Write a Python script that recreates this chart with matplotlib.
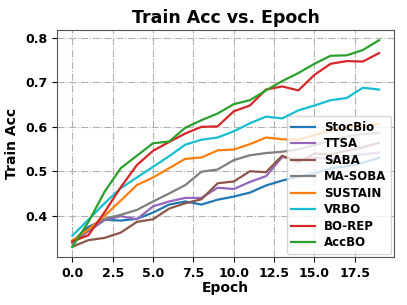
import matplotlib
matplotlib.use("Agg")
import matplotlib.pyplot as plt
from matplotlib.ticker import MultipleLocator, FormatStrFormatter
import numpy as np

epochs = np.arange(20)

StocBio = [0.342, 0.375, 0.391, 0.389, 0.393, 0.407, 0.425, 0.432, 0.425, 0.436,
           0.443, 0.452, 0.468, 0.479, 0.488, 0.495, 0.507, 0.511, 0.519, 0.530]
TTSA = [0.338, 0.365, 0.390, 0.399, 0.392, 0.421, 0.432, 0.440, 0.440, 0.463,
        0.460, 0.476, 0.489, 0.532, 0.527, 0.530, 0.528, 0.533, 0.538, 0.542]
SABA = [0.330, 0.345, 0.350, 0.362, 0.386, 0.392, 0.416, 0.428, 0.437, 0.473,
        0.477, 0.500, 0.498, 0.535, 0.520, 0.540, 0.538, 0.546, 0.554, 0.564]
MA_SOBA = [0.340, 0.368, 0.393, 0.402, 0.413, 0.432, 0.450, 0.469, 0.499, 0.504,
           0.525, 0.536, 0.541, 0.544, 0.549, 0.559, 0.569, 0.578, 0.584, 0.586]
SUSTAIN = [0.344, 0.369, 0.400, 0.434, 0.469, 0.486, 0.507, 0.528, 0.531, 0.547,
           0.549, 0.561, 0.576, 0.572, 0.571, 0.581, 0.592, 0.598, 0.602, 0.606]
VRBO = [0.355, 0.391, 0.428, 0.462, 0.486, 0.510, 0.534, 0.560, 0.571, 0.576,
        0.590, 0.608, 0.623, 0.619, 0.637, 0.648, 0.660, 0.665, 0.688, 0.684]
BO_REP = [0.342, 0.356, 0.408, 0.464, 0.514, 0.546, 0.566, 0.585, 0.600, 0.601,
          0.635, 0.648, 0.684, 0.691, 0.682, 0.717, 0.742, 0.748, 0.747, 0.766]
AccBO = [0.330, 0.386, 0.454, 0.507, 0.535, 0.563, 0.567, 0.598, 0.615, 0.630,
         0.651, 0.660, 0.682, 0.703, 0.721, 0.742, 0.760, 0.761, 0.773, 0.795]

names = ["StocBio", "TTSA", "SABA", "MA-SOBA", "SUSTAIN", "VRBO", "BO-REP", "AccBO"]
series = [StocBio, TTSA, SABA, MA_SOBA, SUSTAIN, VRBO, BO_REP, AccBO]
colors = ["#1f77b4", "#9467bd", "#8c564b", "#7f7f7f", "#ff7f0e", "#17becf", "#d62728", "#2ca02c"]

fig, ax = plt.subplots(figsize=(4.07, 3.05), dpi=100)
fig.subplots_adjust(left=0.14, right=0.969, bottom=0.157, top=0.902)

for name, vals, c in zip(names, series, colors):
    ax.plot(epochs, vals, color=c, linewidth=1.6, label=name)

ax.xaxis.set_major_locator(MultipleLocator(2.5))
ax.xaxis.set_major_formatter(FormatStrFormatter("%.1f"))
ax.yaxis.set_major_locator(MultipleLocator(0.1))
ax.yaxis.set_major_formatter(FormatStrFormatter("%.1f"))

ax.set_title("Train Acc vs. Epoch", fontsize=12.5, fontweight="bold", pad=5)
ax.set_xlabel("Epoch", fontsize=10, fontweight="bold", labelpad=1)
ax.set_ylabel("Train Acc", fontsize=10, fontweight="bold", labelpad=4)
ax.grid(True, linestyle="-.", color="#b0b0b0", linewidth=0.8)
ax.tick_params(labelsize=9)
for lbl in ax.get_xticklabels() + ax.get_yticklabels():
    lbl.set_fontweight("bold")
for s in ax.spines.values():
    s.set_color("#555555")

leg = ax.legend(loc="lower right", prop={"weight": "bold", "size": 8.5},
                borderaxespad=0.25, labelspacing=0.3, handlelength=2.0)

fig.savefig("out.png", dpi=100)
